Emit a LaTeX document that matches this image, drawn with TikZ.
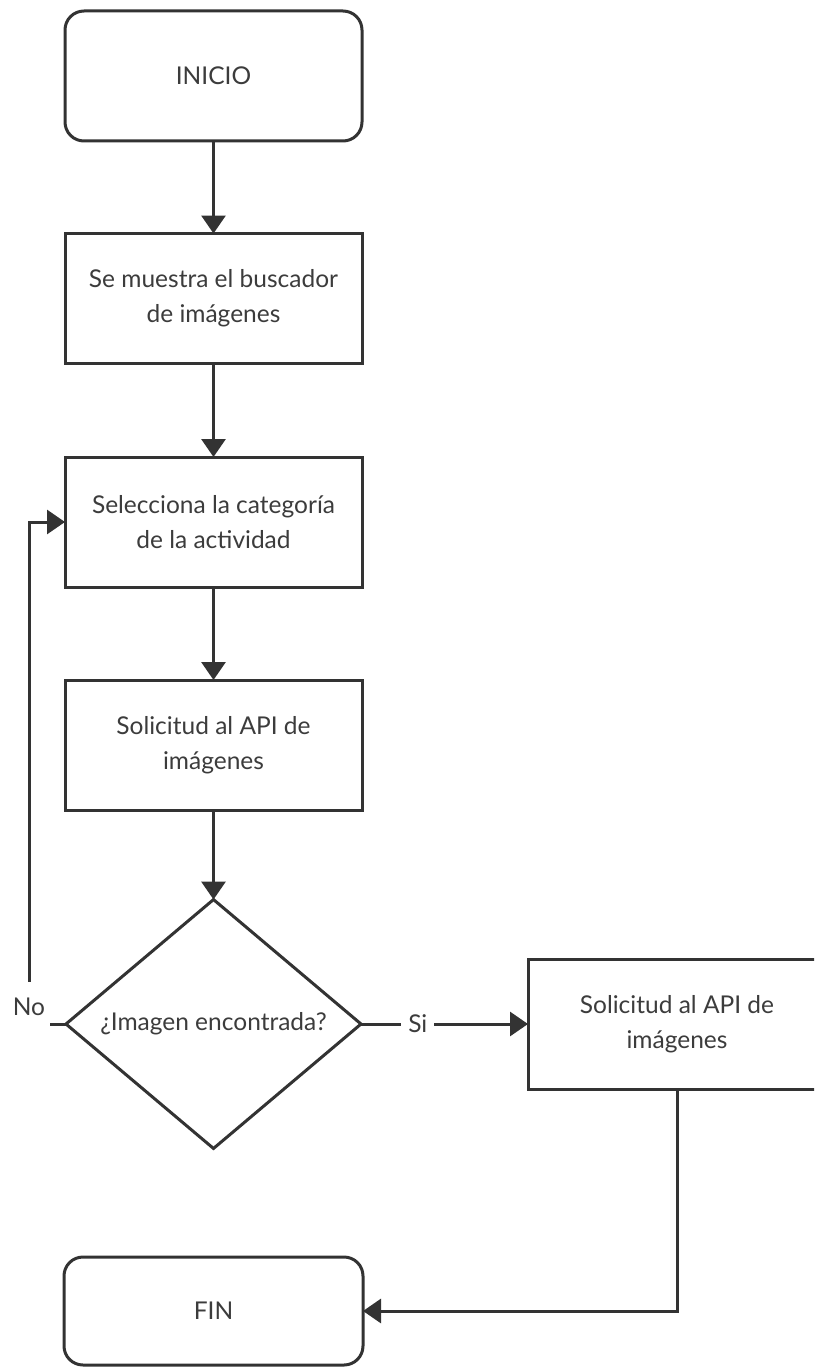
\documentclass[tikz,border=0pt]{standalone}
\usepackage{fontspec}
\setmainfont{Lato}
\usetikzlibrary{arrows.meta,shapes.geometric}
\definecolor{ink}{HTML}{333333}
\definecolor{txt}{HTML}{3C3C3C}
\tikzset{
  every node/.style={text=txt, font=\fontsize{24.5}{35}\selectfont},
  box/.style={draw=ink, line width=3pt, fill=white, align=center, inner sep=0pt, outer sep=0pt,
              minimum width=297pt, minimum height=130pt},
  term/.style={box, rounded corners=19pt},
  decide/.style={diamond, draw=ink, line width=3pt, align=center, inner sep=0pt, outer sep=0pt,
                 minimum width=295pt, minimum height=242pt},
  flow/.style={draw=ink, line width=3pt, -{Triangle[width=24pt,length=18pt]}},
  tag/.style={fill=white, inner sep=0pt}
}
\begin{document}
\begin{tikzpicture}[x=1pt, y=-1pt]
  \useasboundingbox (0,0) rectangle (814,1367);
  \clip (0,0) rectangle (814,1367);

  % terminals and steps
  \node[term] (ini) at (213.5,76) {INICIO};
  \node[box]  (b1)  at (213.5,298.5) {Se muestra el buscador\\de imágenes};
  \node[box]  (b2)  at (213.5,522) {Selecciona la categoría\\de la actividad};
  \node[box]  (b3)  at (213.5,745) {Solicitud al API de\\imágenes};
  \node[decide] (dia) at (213.5,1024) {¿Imagen encontrada?};
  \node[box, minimum width=298pt] (b4) at (677,1024) {Solicitud al API de\\imágenes};
  \node[term, minimum width=299pt, minimum height=108pt] (fin) at (213.5,1311) {FIN};

  % main flow
  \draw[flow] (ini) -- (b1);
  \draw[flow] (b1) -- (b2);
  \draw[flow] (b2) -- (b3);
  \draw[flow] (b3) -- (dia.north);
  \draw[flow] (dia.east) -- node[tag, inner xsep=7pt, pos=0.34] (si) {Si} (b4.west);

  % loop back when no image is found
  \coordinate (nocorner) at (29,1024);
  \draw[flow] (dia.west) -- (nocorner) |- (b2.west);
  \node[tag, minimum width=42pt, minimum height=50pt] (no) at (29,1007) {No};

  % result to the end
  \draw[flow] (b4.south) |- (fin.east);
\end{tikzpicture}
\end{document}
